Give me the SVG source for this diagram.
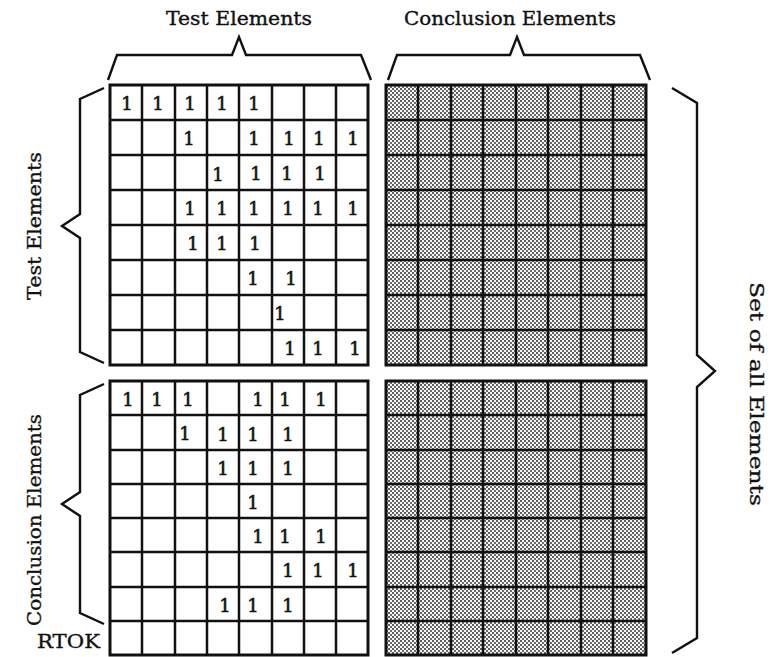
<svg xmlns="http://www.w3.org/2000/svg" width="772" height="657" viewBox="0 0 772 657">
  <defs>
    <!-- halftone dot screen used for the shaded blocks -->
    <pattern id="screen" patternUnits="userSpaceOnUse" width="4" height="4">
      <rect width="4" height="4" fill="#f6f6f6"/>
      <rect x="0" y="0" width="2" height="2" fill="#5e5e5e"/>
      <rect x="2" y="2" width="2" height="2" fill="#6a6a6a"/>
    </pattern>
    <style>
      .grid-bg { fill: #ffffff; }
      .grid-shade { fill: url(#screen); }
      .grid-line { fill: none; stroke: #111; stroke-width: 2.5; }
      .grid-frame { fill: none; stroke: #111; stroke-width: 3; }
      .brace { fill: none; stroke: #111; stroke-width: 2.4; stroke-linejoin: miter; }
      .label { font-family: "DejaVu Serif", "Liberation Serif", serif; font-size: 19px; fill: #111; stroke: #111; stroke-width: 0.35; }
      .one { font-family: "DejaVu Serif", "Liberation Serif", serif; font-size: 18px; fill: #111; stroke: #111; stroke-width: 0.6; text-anchor: middle; }
    </style>
  </defs>

  <rect width="772" height="657" fill="#ffffff"/>

  <!-- headings -->
  <g id="labels">
    <text class="label" x="166" y="25" textLength="146" lengthAdjust="spacingAndGlyphs">Test Elements</text>
    <text class="label" x="404" y="25" textLength="212" lengthAdjust="spacingAndGlyphs">Conclusion Elements</text>
    <text class="label" transform="translate(41,226) rotate(-90)" x="-74" y="0" textLength="148" lengthAdjust="spacingAndGlyphs">Test Elements</text>
    <text class="label" transform="translate(41,520) rotate(-90)" x="-106" y="0" textLength="212" lengthAdjust="spacingAndGlyphs">Conclusion Elements</text>
    <text class="label" transform="translate(750,394) rotate(90)" x="-112" y="0" textLength="224" lengthAdjust="spacingAndGlyphs">Set of all Elements</text>
    <text class="label" x="37" y="648" textLength="63" lengthAdjust="spacingAndGlyphs">RTOK</text>
  </g>

  <!-- braces -->
  <g id="braces">
    <path class="brace" d="M108,80 L117,55 L232,55 L239,37 L246,55 L361,55 L371,80"/>
    <path class="brace" d="M388,80 L397,55 L510,55 L517,37 L524,55 L640,55 L650,80"/>
    <path class="brace" d="M104,88 L80,99 L80,214 L62,226 L80,238 L80,352 L104,363"/>
    <path class="brace" d="M104,384 L80,395 L80,492 L62,504 L80,516 L80,613 L104,624"/>
    <path class="brace" d="M672,88 L697,103 L697,355 L715,371 L697,387 L697,638 L672,653"/>
  </g>

  <!-- test x test block -->
  <g id="block-test-test">
    <rect class="grid-bg" x="110" y="85" width="258" height="280"/>
    <path class="grid-line" d="M142,85V365M175,85V365M207,85V365M239,85V365M272,85V365M304,85V365M336,85V365
      M110,120H368M110,155H368M110,190H368M110,225H368M110,260H368M110,295H368M110,330H368"/>
    <rect class="grid-frame" x="110" y="85" width="258" height="280"/>
    <!-- row 0 -->
    <text class="one" x="127" y="110">1</text><text class="one" x="158" y="110">1</text><text class="one" x="190" y="110">1</text><text class="one" x="222" y="110">1</text><text class="one" x="254" y="110">1</text>
    <!-- row 1 -->
    <text class="one" x="189" y="145">1</text><text class="one" x="254" y="145">1</text><text class="one" x="289" y="145">1</text><text class="one" x="319" y="145">1</text><text class="one" x="353" y="145">1</text>
    <!-- row 2 -->
    <text class="one" x="218" y="181">1</text><text class="one" x="256" y="180">1</text><text class="one" x="287" y="180">1</text><text class="one" x="320" y="180">1</text>
    <!-- row 3 -->
    <text class="one" x="190" y="215">1</text><text class="one" x="222" y="215">1</text><text class="one" x="254" y="215">1</text><text class="one" x="288" y="215">1</text><text class="one" x="318" y="215">1</text><text class="one" x="353" y="215">1</text>
    <!-- row 4 -->
    <text class="one" x="193" y="250">1</text><text class="one" x="222" y="250">1</text><text class="one" x="255" y="250">1</text>
    <!-- row 5 -->
    <text class="one" x="253" y="285">1</text><text class="one" x="291" y="285">1</text>
    <!-- row 6 -->
    <text class="one" x="280" y="320">1</text>
    <!-- row 7 -->
    <text class="one" x="290" y="355">1</text><text class="one" x="318" y="355">1</text><text class="one" x="355" y="355">1</text>
  </g>

  <!-- test x conclusion block (shaded) -->
  <g id="block-test-conclusion">
    <rect class="grid-shade" x="386" y="85" width="260" height="280"/>
    <path class="grid-line" d="M418,85V365M451,85V365M483,85V365M516,85V365M548,85V365M581,85V365M613,85V365
      M386,120H646M386,155H646M386,190H646M386,225H646M386,260H646M386,295H646M386,330H646"/>
    <rect class="grid-frame" x="386" y="85" width="260" height="280"/>
  </g>

  <!-- conclusion x test block -->
  <g id="block-conclusion-test">
    <rect class="grid-bg" x="110" y="381" width="258" height="274"/>
    <path class="grid-line" d="M142,381V655M175,381V655M207,381V655M239,381V655M272,381V655M304,381V655M336,381V655
      M110,415H368M110,450H368M110,484H368M110,518H368M110,552H368M110,587H368M110,621H368"/>
    <rect class="grid-frame" x="110" y="381" width="258" height="274"/>
    <!-- row 0 -->
    <text class="one" x="128" y="406">1</text><text class="one" x="157" y="406">1</text><text class="one" x="188" y="406">1</text><text class="one" x="258" y="406">1</text><text class="one" x="285" y="406">1</text><text class="one" x="321" y="406">1</text>
    <!-- row 1 -->
    <text class="one" x="185" y="440">1</text><text class="one" x="223" y="441">1</text><text class="one" x="253" y="441">1</text><text class="one" x="288" y="441">1</text>
    <!-- row 2 -->
    <text class="one" x="223" y="475">1</text><text class="one" x="253" y="475">1</text><text class="one" x="288" y="475">1</text>
    <!-- row 3 -->
    <text class="one" x="253" y="509">1</text>
    <!-- row 4 -->
    <text class="one" x="258" y="543">1</text><text class="one" x="285" y="543">1</text><text class="one" x="321" y="543">1</text>
    <!-- row 5 -->
    <text class="one" x="288" y="577">1</text><text class="one" x="318" y="577">1</text><text class="one" x="353" y="577">1</text>
    <!-- row 6 -->
    <text class="one" x="225" y="612">1</text><text class="one" x="253" y="612">1</text><text class="one" x="288" y="612">1</text>
  </g>

  <!-- conclusion x conclusion block (shaded) -->
  <g id="block-conclusion-conclusion">
    <rect class="grid-shade" x="386" y="381" width="260" height="274"/>
    <path class="grid-line" d="M418,381V655M451,381V655M483,381V655M516,381V655M548,381V655M581,381V655M613,381V655
      M386,415H646M386,450H646M386,484H646M386,518H646M386,552H646M386,587H646M386,621H646"/>
    <rect class="grid-frame" x="386" y="381" width="260" height="274"/>
  </g>
</svg>
